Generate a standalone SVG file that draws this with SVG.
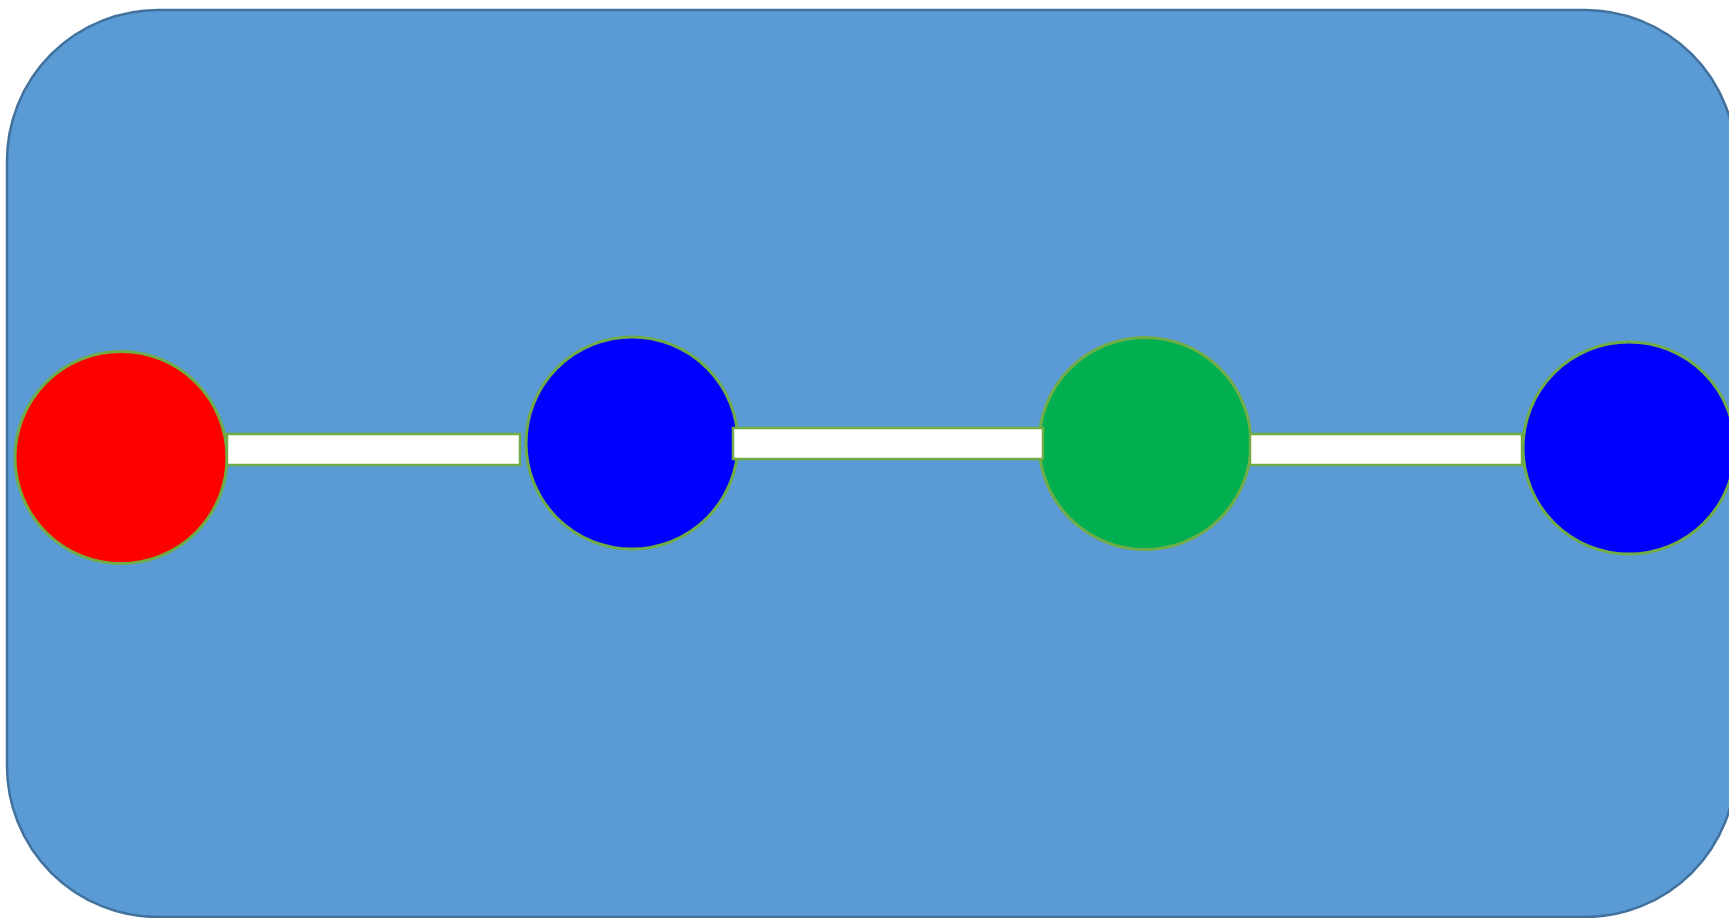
<svg xmlns="http://www.w3.org/2000/svg" width="1729" height="918" viewBox="0 0 1729 918">
<style>
.bg{fill:#5B9BD5;stroke:#41719C;stroke-width:2.5}
.node{stroke:#70AD47;stroke-width:3}
.bar{fill:#FFFFFF;stroke:#70AD47;stroke-width:2.5}
</style>
<rect width="1729" height="918" fill="#FFFFFF"/>
<rect class="bg" x="7" y="10" width="1729" height="907" rx="151" ry="151"/>
<g id="n1"><circle class="node" cx="121" cy="457.5" r="106" fill="#FF0000"/></g>
<g id="n2"><circle class="node" cx="632" cy="443" r="106" fill="#0000FF"/></g>
<g id="n3"><circle class="node" cx="1145" cy="443.5" r="106" fill="#00B050"/></g>
<g id="n4"><circle class="node" cx="1629" cy="448" r="106" fill="#0000FF"/></g>
<g id="connectors">
<rect class="bar" x="227" y="434" width="293" height="31"/>
<rect class="bar" x="733" y="428" width="310" height="31"/>
<rect class="bar" x="1250" y="434" width="272" height="31"/>
</g>
</svg>
